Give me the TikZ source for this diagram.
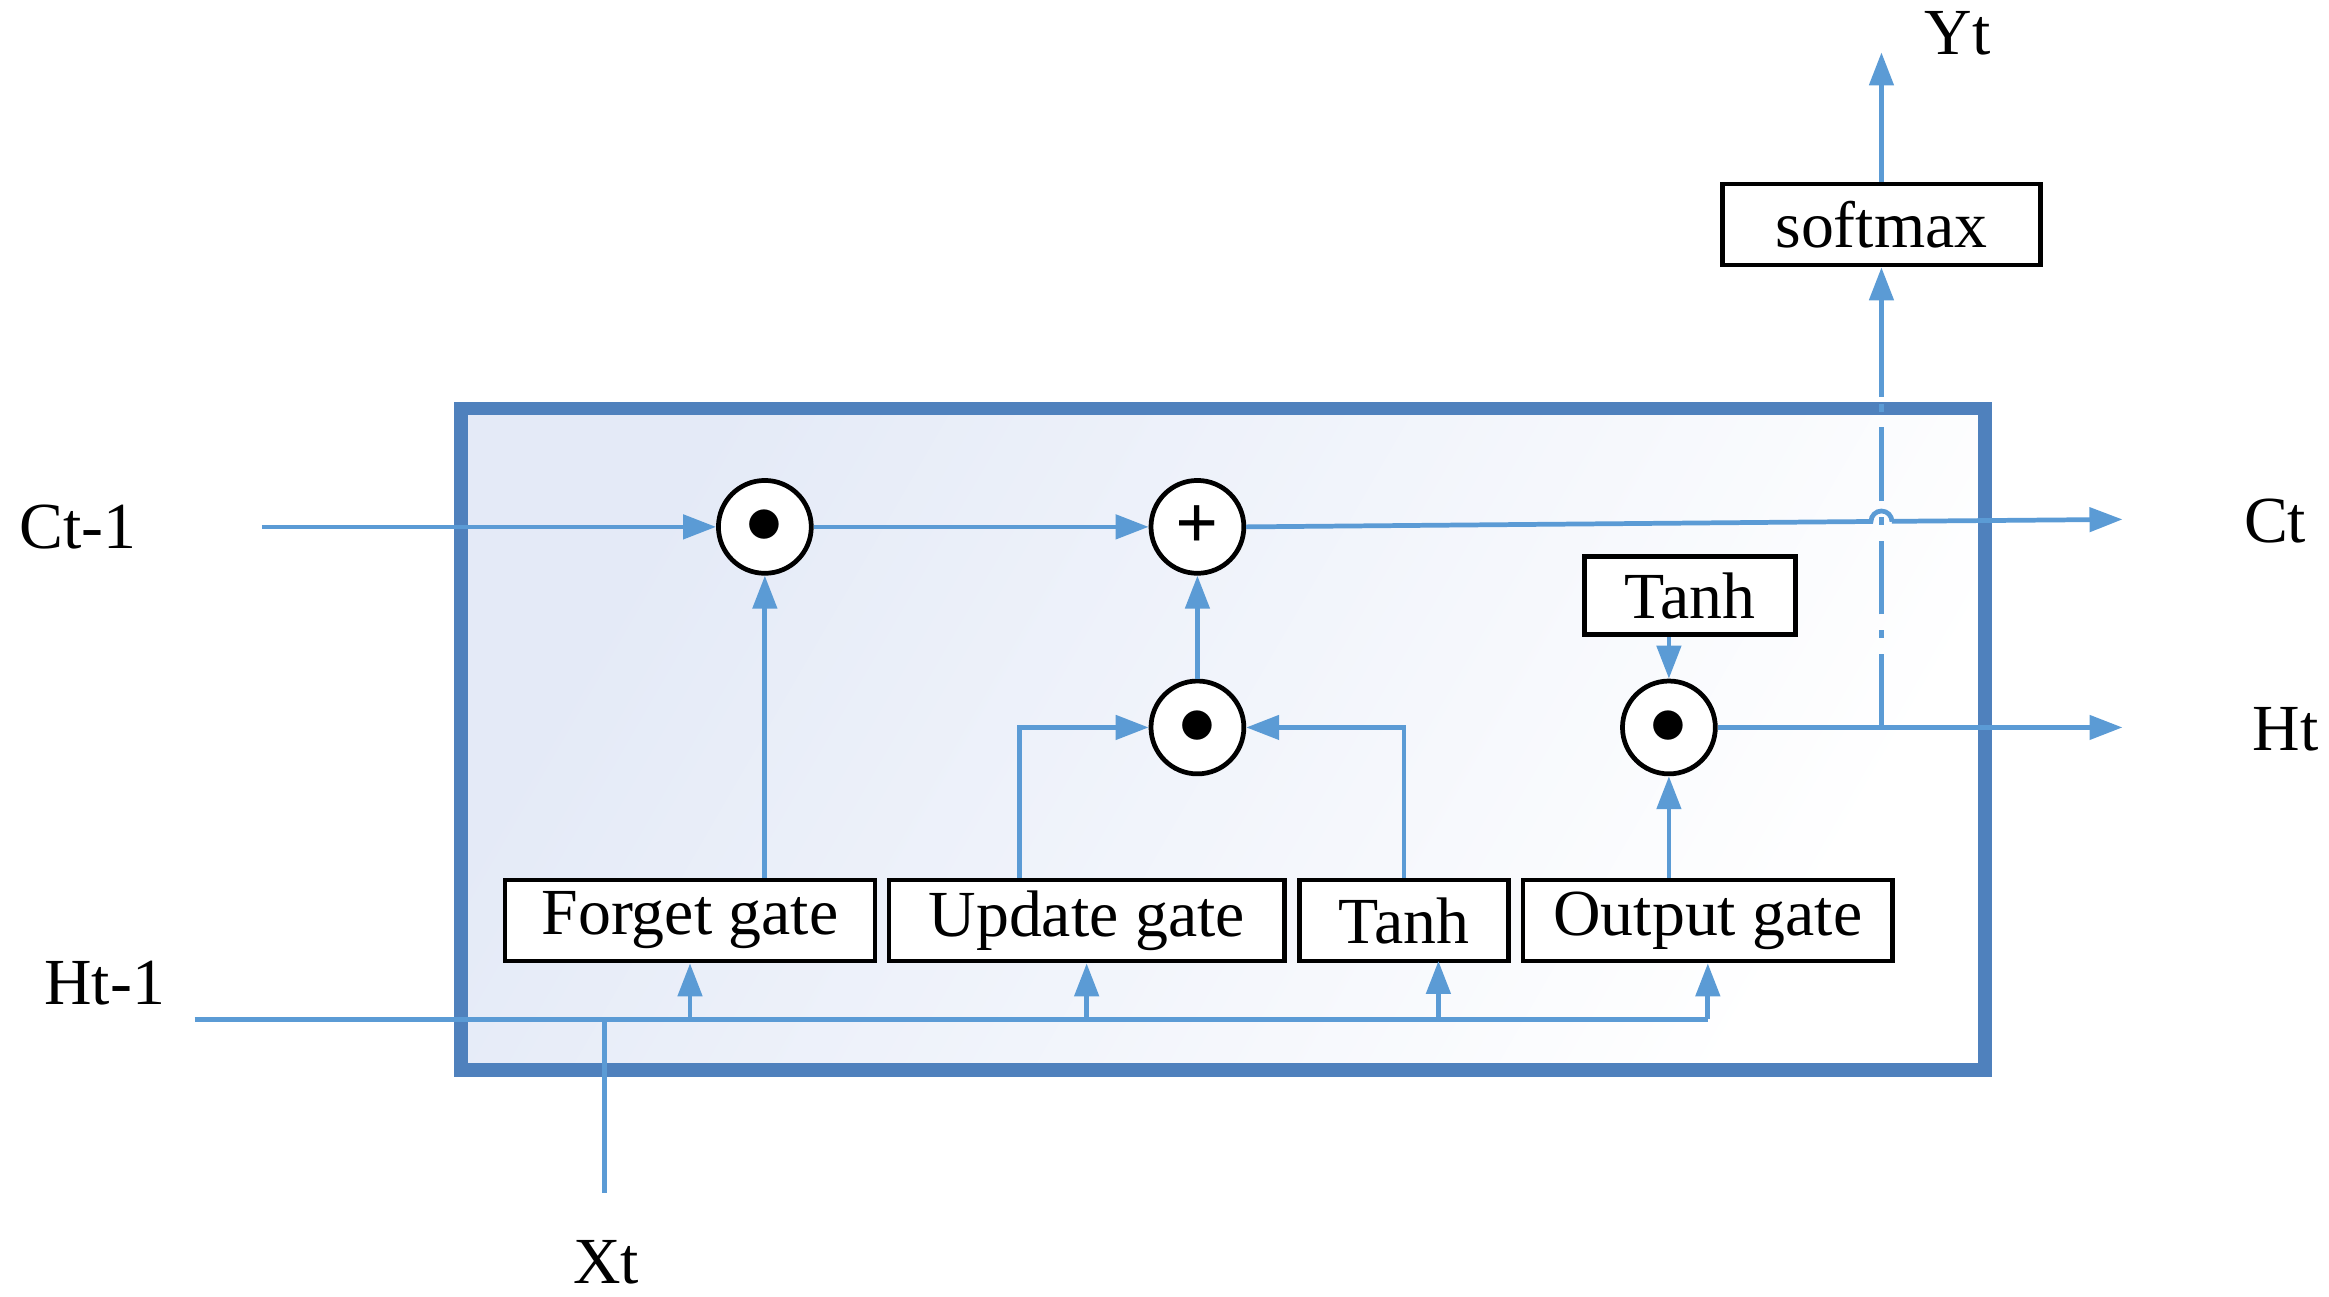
\documentclass[tikz,border=0pt]{standalone}
\usepackage{fontspec}
\setmainfont{Liberation Serif}
\usetikzlibrary{arrows.meta}
\definecolor{ln}{RGB}{91,155,213}
\definecolor{bd}{RGB}{79,129,189}
\definecolor{sh}{RGB}{228,234,247}
\begin{document}
\begin{tikzpicture}[x=0.01cm,y=-0.01cm,font=\fontsize{12.5}{15}\selectfont,
  ar/.style={draw=ln,line width=0.9pt,-{Triangle[length=2.2mm,width=1.6mm]}},
  ln/.style={draw=ln,line width=0.9pt},
  op/.style={circle,draw=black,line width=0.9pt,fill=white,minimum size=0.62cm,inner sep=0pt},
  bx/.style={draw=black,line width=0.9pt,fill=white,minimum height=0.54cm,inner sep=0pt}]
\useasboundingbox (0,0) rectangle (1556,866);
\shade[left color=sh,right color=white,shading angle=60] (308,273) rectangle (1326,715);
\draw[bd,line width=2.6pt] (308,273) rectangle (1326,715);
% ops
\node[op] (f) at (511,352) {\Large$\bullet$};
\node[op] (p) at (800,352) {\Large\textbf{+}};
\node[op] (u) at (800,486) {\Large$\bullet$};
\node[op] (o) at (1115,486) {\Large$\bullet$};
% boxes
\node[bx,minimum width=2.47cm] (fg) at (461,615) {Forget gate};
\node[bx,minimum width=2.64cm] (ug) at (726,615) {Update gate};
\node[bx,minimum width=1.40cm] (tg) at (938,615) {Tanh};
\node[bx,minimum width=2.47cm] (og) at (1141,615) {Output gate};
\node[bx,minimum width=1.41cm,minimum height=0.52cm] (tt) at (1129,398) {Tanh};
\node[bx,minimum width=2.12cm] (sm) at (1257,150) {softmax};
% labels
\node (ct1) at (52,352) {Ct-1};
\node (ht1) at (70,657) {Ht-1};
\node (xt) at (405,843) {Xt};
\node (ct) at (1520,348) {Ct};
\node (ht) at (1527,487) {Ht};
\node (yt) at (1308,22) {Yt};
\coordinate (cs) at (175,352);
\coordinate (ce) at (1418,347);
\coordinate (he) at (1418,486);
\coordinate (hs) at (130,681);
\coordinate (xs) at (404,797);
\coordinate (ye) at (1257,35);
% flows
\draw[ar] (cs) -- (f);
\draw[ar] (f) -- (p);
\draw[ln] (p.east) -- (1250,348.4) arc[start angle=180,end angle=360,radius=7] -- (1264,348.3);
\draw[ar] (1264,348.3) -- (ce);
\draw[ar] (fg.north -| f) -- (f);
\draw[ar] (u) -- (p);
\draw[ar] (ug.north -| 681,0) |- (u);
\draw[ar] (tg.north) |- (u);
\draw[ar] (tt.south -| o) -- (o);
\draw[ar] (og.north -| o) -- (o);
\draw[ar] (o) -- (he);
\draw[ln,dash pattern=on 14pt off 3pt on 1.5pt off 3pt] (1257,486) -- (1257,265);
\draw[ar] (1257,265) -- (sm);
\draw[ar] (sm) -- (ye);
\draw[ln] (hs) -- (1141,681);
\draw[ln] (xs) -- (404,681);
\draw[ar] (461,681) -- (fg);
\draw[ar] (726,681) -- (ug);
\draw[ar] (961,681) -- (961,642);
\draw[ar] (1141,681) -- (og);
\end{tikzpicture}
\end{document}
